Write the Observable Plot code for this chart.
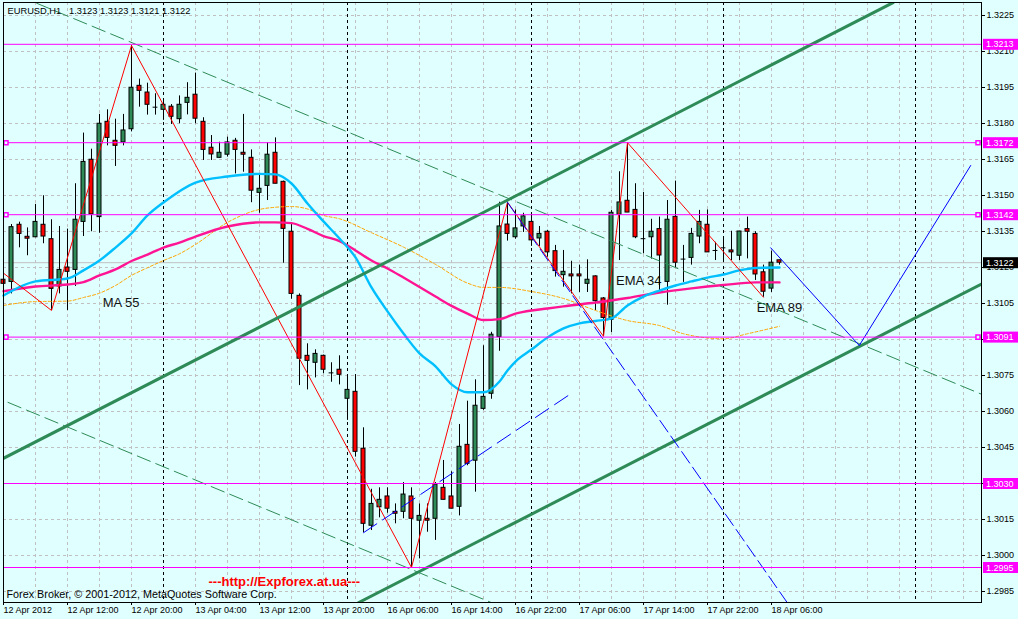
<!DOCTYPE html>
<html><head><meta charset="utf-8">
<script src="https://cdn.jsdelivr.net/npm/d3@7"></script>
<script src="https://cdn.jsdelivr.net/npm/@observablehq/plot@0.6"></script>
<style>
html,body{margin:0;padding:0;background:#e0ffff;}
svg{display:block}
</style></head><body><div id="chart"></div>
<script>
// ---- data ----
const symbolHeader = "EURUSD,H1\u00a0\u00a0\u00a01.3123 1.3123 1.3121 1.3122";
const copyright = "Forex Broker, \u00a9 2001-2012, MetaQuotes Software Corp.";
const siteLabel = "---http://Expforex.at.ua---";

const open  = [1.31149,1.3114,1.31378,1.31328,1.31326,1.31378,1.31318,1.31121,1.312,1.3119,1.3139,1.31649,1.3141,1.31807,1.31728,1.31721,1.31776,1.31957,1.31929,1.31868,1.31857,1.3187,1.31818,1.31886,1.3192,1.31807,1.31699,1.31657,1.3167,1.31728,1.31678,1.31657,1.31511,1.3154,1.31678,1.31557,1.31349,1.31082,1.30832,1.30803,1.30832,1.30761,1.30774,1.30653,1.30682,1.30445,1.30124,1.30201,1.30246,1.30182,1.30182,1.30246,1.30145,1.30153,1.30153,1.30282,1.30246,1.30203,1.30461,1.30395,1.30611,1.30674,1.3091,1.31379,1.31326,1.31371,1.3139,1.31321,1.31349,1.31268,1.31168,1.31171,1.31171,1.31132,1.31163,1.31071,1.30982,1.3142,1.31478,1.3144,1.3132,1.31326,1.3136,1.3114,1.31411,1.31235,1.3124,1.31329,1.31378,1.31271,1.31282,1.31271,1.31249,1.3136,1.3134,1.3118,1.31112,1.3123];
const high  = [1.3115,1.31379,1.31389,1.31365,1.31463,1.31499,1.31399,1.31371,1.3136,1.31549,1.3176,1.31693,1.31838,1.31857,1.31818,1.31838,1.32125,1.31985,1.31968,1.31924,1.31896,1.31879,1.31915,1.3197,1.3201,1.31824,1.3175,1.31722,1.31743,1.31738,1.31838,1.3169,1.3159,1.3172,1.3174,1.3156,1.31379,1.3109,1.30882,1.30857,1.30835,1.30803,1.30832,1.30749,1.30754,1.30532,1.30276,1.30282,1.30282,1.30215,1.30304,1.30282,1.30215,1.30215,1.30304,1.30396,1.30349,1.30546,1.30643,1.30732,1.30874,1.3093,1.31472,1.31472,1.3144,1.31426,1.31426,1.31371,1.31355,1.31292,1.31271,1.31226,1.3121,1.31232,1.31165,1.31075,1.31438,1.31599,1.3172,1.31549,1.31513,1.31401,1.3141,1.31479,1.3156,1.31292,1.31363,1.31438,1.3144,1.31305,1.3132,1.31351,1.3135,1.3141,1.31349,1.3121,1.31268,1.3123];
const low   = [1.31063,1.3109,1.31282,1.31249,1.31324,1.31299,1.31021,1.3109,1.31021,1.31121,1.31329,1.31349,1.31343,1.31707,1.31621,1.31707,1.31765,1.31868,1.31835,1.31835,1.31813,1.31796,1.31799,1.31836,1.31799,1.31646,1.31646,1.31655,1.3166,1.3159,1.31597,1.3147,1.31426,1.31479,1.31549,1.31218,1.31068,1.30708,1.3069,1.3074,1.30757,1.30722,1.30711,1.30563,1.3041,1.30095,1.30104,1.30157,1.30176,1.30132,1.30153,1.2995,1.29986,1.30097,1.30063,1.30232,1.30195,1.30165,1.30374,1.30264,1.30605,1.30651,1.30851,1.3131,1.31318,1.31346,1.31288,1.31288,1.31243,1.3116,1.31118,1.3109,1.31096,1.31096,1.31021,1.30913,1.30929,1.31229,1.31429,1.3132,1.31257,1.31235,1.31099,1.31043,1.31199,1.31138,1.3121,1.31299,1.31263,1.31229,1.31229,1.31229,1.31229,1.31236,1.31146,1.31076,1.31096,1.3121];
const close = [1.31132,1.31368,1.3134,1.3132,1.3139,1.31329,1.31111,1.3119,1.31182,1.31399,1.3164,1.31421,1.31799,1.3174,1.31707,1.31771,1.31949,1.31936,1.31878,1.31868,1.31878,1.31828,1.31878,1.31907,1.3182,1.3169,1.31671,1.31678,1.31721,1.3169,1.3167,1.3152,1.31528,1.3167,1.31549,1.31361,1.3109,1.3082,1.30811,1.3084,1.30774,1.30761,1.30753,1.3069,1.30432,1.30132,1.30215,1.30232,1.30195,1.30174,1.30254,1.30153,1.30165,1.30145,1.30296,1.30232,1.30195,1.30453,1.30382,1.30624,1.30661,1.3092,1.31371,1.3134,1.31363,1.31413,1.31313,1.3134,1.31263,1.31185,1.31182,1.31163,1.31163,1.31149,1.3106,1.3099,1.31428,1.31471,1.31429,1.31326,1.3132,1.31349,1.3125,1.31399,1.3122,1.31235,1.3134,1.3139,1.31263,1.31271,1.31282,1.31263,1.3135,1.31349,1.31171,1.31099,1.3122,1.3122];

const timeLabelBars = [0,8,16,24,32,40,48,56,64,72,80,88,96];
const timeLabels = ["12 Apr 2012","12 Apr 12:00","12 Apr 20:00","13 Apr 04:00","13 Apr 12:00","13 Apr 20:00","16 Apr 06:00","16 Apr 14:00","16 Apr 22:00","17 Apr 06:00","17 Apr 14:00","17 Apr 22:00","18 Apr 06:00"];
const separatorBars = [20,43,66,90,114];
const priceTicks = [1.2985,1.3000,1.3015,1.3030,1.3045,1.3060,1.3075,1.3090,1.3105,1.3120,1.3135,1.3150,1.3165,1.3180,1.3195,1.3210,1.3225];
// tick labels that stay readable (1.3030 and 1.3090 sit fully under price tags)
const priceTickLabels = [1.2985,1.3000,1.3015,1.3045,1.3060,1.3075,1.3105,1.3120,1.3135,1.3150,1.3165,1.3180,1.3195,1.3210,1.3225];

const levels = [1.3213,1.3172,1.3142,1.3091,1.3030,1.2995];
const markedLevels = [1.3172,1.3142,1.3091];
const bid = 1.3122;

const ema34Bars = [0,4,8,10,12,14,16,18,20,24,28,32,34,36,38,40,42,44,46,48,50,52,54,56,58,60,62,63,64,66,68,70,72,74,76,78,80,82,84,86,88,90,92,94,97];
const ema34 = [1.31083,1.31142,1.31154,1.31188,1.31229,1.31283,1.31342,1.31417,1.31471,1.31554,1.31579,1.3159,1.31588,1.3155,1.31467,1.31392,1.31321,1.31242,1.31117,1.31017,1.30925,1.30842,1.30788,1.30713,1.3068,1.3068,1.30725,1.30771,1.30808,1.30858,1.30908,1.30946,1.30967,1.30977,1.30988,1.31042,1.31079,1.31104,1.31125,1.31142,1.31158,1.31171,1.31188,1.31198,1.312];
const ema89Bars = [0,4,8,10,12,14,16,18,20,22,24,28,32,34,36,38,40,42,44,46,48,50,52,54,56,58,60,62,64,66,68,70,74,78,82,86,90,94,97];
const ema89 = [1.31101,1.31121,1.31129,1.31139,1.31167,1.31192,1.31227,1.31254,1.31283,1.31304,1.31329,1.31371,1.31388,1.31388,1.31385,1.31361,1.31331,1.3131,1.31271,1.31229,1.31196,1.31158,1.31119,1.31079,1.3104,1.31008,1.30981,1.30985,1.31008,1.31021,1.31029,1.31038,1.31054,1.31073,1.31096,1.31113,1.31127,1.31138,1.31138];
const ma55Bars = [0,4,8,10,12,14,16,18,20,22,24,28,32,34,36,38,40,42,46,50,54,58,60,62,66,70,74,78,82,85,90,93,97];
const ma55 = [1.31042,1.31058,1.3106,1.31075,1.31093,1.31125,1.31167,1.31199,1.31229,1.31257,1.31296,1.31388,1.31442,1.31451,1.31454,1.31444,1.31417,1.31403,1.31345,1.31285,1.31213,1.31135,1.31117,1.31117,1.311,1.31071,1.31021,1.30979,1.30958,1.30924,1.30903,1.30924,1.30955];

const zigzagBars = [-0.1,6,16,51,63,75,78,95];
const zigzag = [1.31179,1.31021,1.32125,1.2995,1.31472,1.30913,1.3172,1.31076];

const channelUpperBars = [0,111.2];      const channelUpper = [1.30405,1.32304];
const channelLowerBars = [44.4,122.25];  const channelLower = [1.29804,1.31131];
const dashUpperBars = [4.15,122.25];     const dashUpper = [1.32301,1.30672];
const dashLowerBars = [0.56,60.97];      const dashLower = [1.30638,1.29804];
const blueRiseBars = [45,71.1];          const blueRise = [1.30095,1.30678];
const blueFallBars = [63,97.96];         const blueFall = [1.31471,1.29804];
const blueVBars = [95.9,106.97,120.9];   const blueV = [1.31282,1.30875,1.31625];

const noteTexts = ["MA 55","EMA 34","EMA 89"];
const noteBars = [12.4,76.56,94.15];
const notePrices = [1.31035,1.31129,1.31014];

// ---- build tables ----
const candles = open.map((o,i)=>({i,o,h:high[i],l:low[i],c:close[i]}));
const bulls = candles.filter(d=>d.c>d.o);
const bears = candles.filter(d=>d.c<d.o);
const dojis = candles.filter(d=>d.c===d.o);
const pts = (b,v)=>b.map((j,k)=>({j,p:v[k]}));
const gridBars = d3.range(0,121,4);
const notes = noteTexts.map((t,k)=>({t,j:noteBars[k],p:notePrices[k]}));

const GREEN="#2e8b57", MAG="#ff00ff";
const FONT="'Liberation Sans', Arial, sans-serif";

const plot = Plot.plot({
  width:1018, height:619,
  marginLeft:3, marginRight:37, marginTop:2, marginBottom:17,
  style:{background:"#e0ffff", fontFamily:FONT, fontSize:"9px", color:"#000", overflow:"visible"},
  x:{domain:[0,122.25]},
  y:{domain:[1.2980417,1.3230417]},
  marks:[
    Plot.ruleY(priceTicks,{stroke:"#c0c0c0",strokeDasharray:"3,3"}),
    Plot.ruleX(gridBars,{stroke:"#c0c0c0",strokeDasharray:"3,3"}),
    Plot.ruleX(separatorBars,{stroke:"#000",strokeDasharray:"3,3"}),
    Plot.ruleY([bid],{stroke:"#c0c0c0"}),
    Plot.text(notes,{x:"j",y:"p",text:"t",textAnchor:"start",lineAnchor:"bottom",fontSize:13,fill:"#111"}),
    Plot.ruleX(candles,{x:"i",y1:"l",y2:"h",stroke:"#000"}),
    Plot.rect(bulls,{x1:d=>d.i-0.25,x2:d=>d.i+0.25,y1:"o",y2:"c",fill:GREEN,stroke:"#000"}),
    Plot.rect(bears,{x1:d=>d.i-0.25,x2:d=>d.i+0.25,y1:"o",y2:"c",fill:"#ff0000",stroke:"#000"}),
    Plot.ruleY(dojis,{y:"o",x1:d=>d.i-0.3,x2:d=>d.i+0.3,stroke:"#000"}),
    Plot.line(pts(ma55Bars,ma55),{x:"j",y:"p",stroke:"#ffa500",strokeWidth:1,strokeDasharray:"3,2",curve:"monotone-x"}),
    Plot.line(pts(ema89Bars,ema89),{x:"j",y:"p",stroke:"#ff1493",strokeWidth:2.4,curve:"monotone-x"}),
    Plot.line(pts(ema34Bars,ema34),{x:"j",y:"p",stroke:"#00bfff",strokeWidth:2.4,curve:"monotone-x"}),
    Plot.line(pts(zigzagBars,zigzag),{x:"j",y:"p",stroke:"#ff0000",strokeWidth:1,clip:true}),
    Plot.line(pts(channelUpperBars,channelUpper),{x:"j",y:"p",stroke:GREEN,strokeWidth:3,clip:true}),
    Plot.line(pts(channelLowerBars,channelLower),{x:"j",y:"p",stroke:GREEN,strokeWidth:3,clip:true}),
    Plot.line(pts(dashUpperBars,dashUpper),{x:"j",y:"p",stroke:GREEN,strokeWidth:1,strokeDasharray:"14,6",clip:true}),
    Plot.line(pts(dashLowerBars,dashLower),{x:"j",y:"p",stroke:GREEN,strokeWidth:1,strokeDasharray:"14,6",clip:true}),
    Plot.line(pts(blueRiseBars,blueRise),{x:"j",y:"p",stroke:"#0000ff",strokeWidth:1,strokeDasharray:"16,7",clip:true}),
    Plot.line(pts(blueFallBars,blueFall),{x:"j",y:"p",stroke:"#0000ff",strokeWidth:1,strokeDasharray:"14,5",clip:true}),
    Plot.line(pts(blueVBars,blueV),{x:"j",y:"p",stroke:"#0000ff",strokeWidth:1,clip:true}),
    Plot.ruleY(levels,{stroke:MAG}),
    Plot.dot(markedLevels,{y:d=>d,frameAnchor:"left",dx:2.5,symbol:"square",r:2.3,stroke:MAG,fill:"#e0ffff"}),
    Plot.dot(markedLevels,{y:d=>d,frameAnchor:"right",dx:-3.5,symbol:"square",r:2.3,stroke:MAG,fill:"#e0ffff"}),
    Plot.text([symbolHeader],{frameAnchor:"top-left",dx:4,dy:4.5,fontSize:9.3,fill:"#000"}),
    Plot.text([copyright],{frameAnchor:"bottom-left",dx:3,dy:-4.5,fontSize:10.8,fill:"#000"}),
    Plot.text([siteLabel],{frameAnchor:"bottom-left",dx:205,dy:-16.5,fontSize:13,fontWeight:"bold",fill:"#ff0000"}),
    Plot.frame({stroke:"#000"}),
    Plot.axisY(priceTicks,{anchor:"right",tickSize:3,text:null,label:null}),
    Plot.axisY(priceTickLabels,{anchor:"right",tickSize:3,tickPadding:2,tickFormat:d=>d.toFixed(4),fontSize:9,label:null}),
    Plot.axisX(timeLabelBars,{anchor:"bottom",tickSize:3,tickPadding:1.5,textAnchor:"start",tickFormat:d=>timeLabels[timeLabelBars.indexOf(d)],fontSize:9,label:null})
  ]
});

// price tags on the right axis, positioned through the plot's own y scale
const ys = plot.scale("y");
const svg = d3.select(plot);
const tags = svg.append("g").attr("font-family",FONT).attr("font-size",9).attr("text-anchor","start");
function tag(v, bg){
  const y = ys.apply(v) + 0.5;
  tags.append("rect").attr("x",983).attr("y",y-5.5).attr("width",35).attr("height",11).attr("fill",bg);
  tags.append("text").attr("x",986).attr("y",y).attr("dy","0.34em").attr("fill","#fff").text(v.toFixed(4));
}
levels.forEach(v=>tag(v,MAG));
tag(bid,"#000");

document.getElementById("chart").appendChild(plot);
</script></body></html>
